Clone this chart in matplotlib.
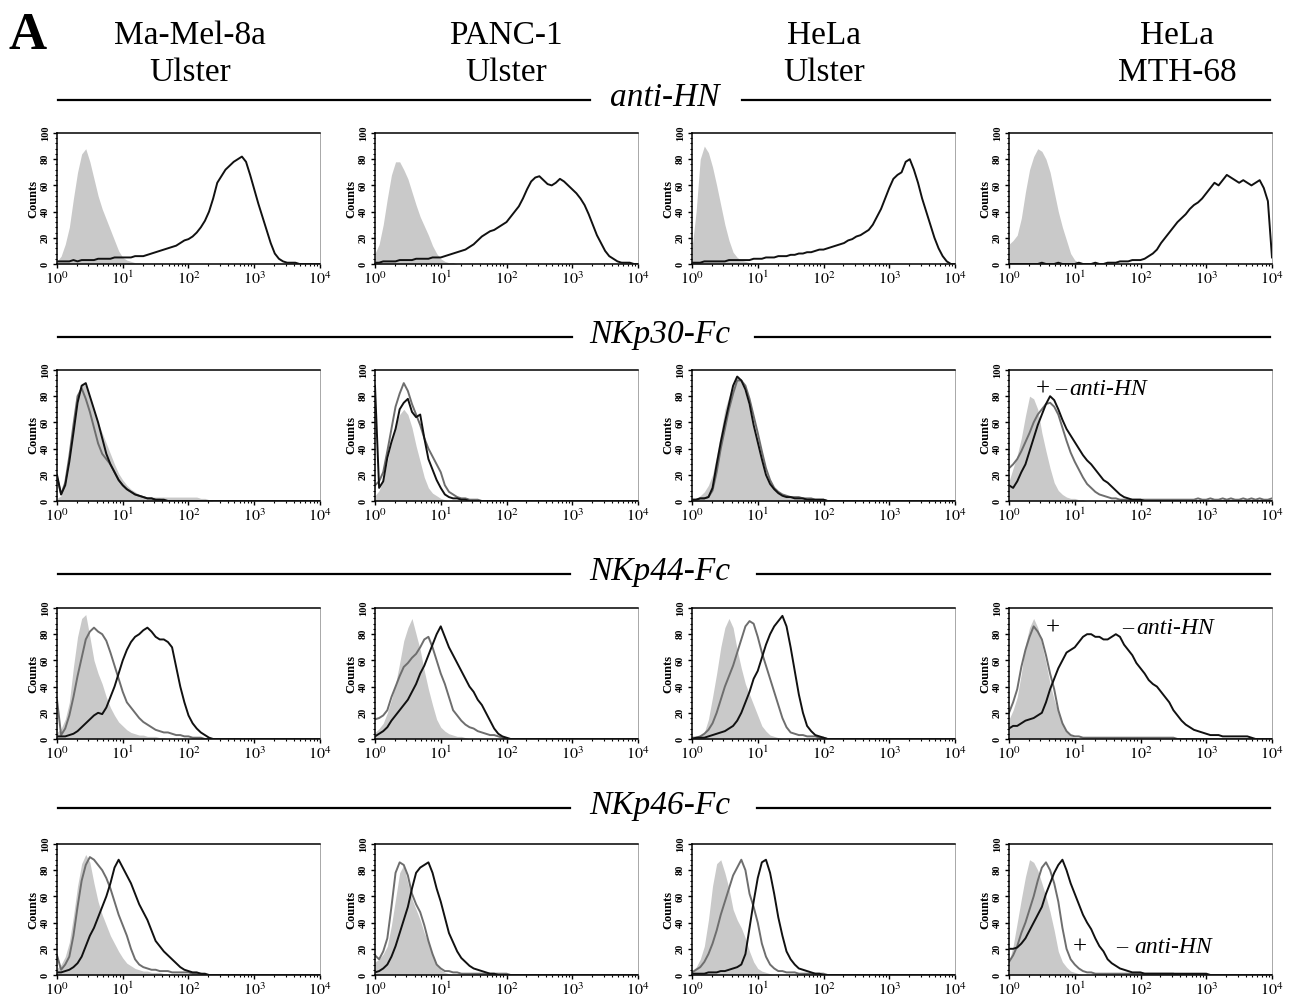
import numpy as np
import matplotlib.pyplot as plt
from matplotlib.lines import Line2D
from matplotlib.ticker import MultipleLocator, LogLocator, NullFormatter

plt.rcParams['font.family'] = ['Liberation Serif', 'DejaVu Serif']
plt.rcParams['mathtext.fontset'] = 'stix'

cell_lines = ['Ma-Mel-8a\nUlster', 'PANC-1\nUlster', 'HeLa\nUlster', 'HeLa\nMTH-68']
stains = ['anti-HN', 'NKp30-Fc', 'NKp44-Fc', 'NKp46-Fc']
decade_labels = ['$10^{0}$', '$10^{1}$', '$10^{2}$', '$10^{3}$', '$10^{4}$']

# histogram counts, 16 channels per decade starting at 10^0 (missing tail = 0)
# ctrl = isotype (filled), pos = + anti-HN, neg = - anti-HN / stain
mel_hn_ctrl = [2, 6, 15, 28, 50, 70, 84, 88, 78, 65, 52, 42, 34, 26, 18, 10, 5, 3, 2, 1, 1]
mel_hn = [2, 2, 2, 2, 3, 2, 3, 3, 3, 3, 4, 4, 4, 4, 5, 5, 5, 5, 5, 6,
          6, 6, 7, 8, 9, 10, 11, 12, 13, 14, 16, 18, 19, 21, 24, 28, 33, 40, 50, 62,
          67, 72, 75, 78, 80, 82, 78, 68, 57, 46, 36, 26, 16, 8, 4, 2, 1, 1, 1]
panc_hn_ctrl = [8, 15, 30, 50, 68, 78, 78, 72, 65, 55, 45, 36, 29, 22, 14, 8, 4, 2, 1, 1]
panc_hn = [1, 1, 2, 2, 2, 2, 3, 3, 3, 3, 4, 4, 4, 4, 5, 5, 5, 6, 7, 8,
           9, 10, 11, 13, 15, 18, 21, 23, 25, 26, 28, 30, 32, 36, 40, 44, 50, 57, 63, 66,
           67, 64, 61, 60, 62, 65, 63, 60, 57, 54, 50, 45, 38, 30, 22, 16, 10, 6, 4, 2, 1, 1, 1]
hela_hn_ctrl = [12, 40, 80, 90, 85, 74, 60, 45, 30, 18, 9, 5, 3, 2, 1, 1]
hela_hn = [1, 1, 1, 2, 2, 2, 2, 2, 2, 3, 3, 3, 3, 3, 3, 4, 4, 4, 5, 5,
           5, 6, 6, 6, 7, 7, 8, 8, 9, 9, 10, 11, 11, 12, 13, 14, 15, 16, 18, 19,
           21, 22, 24, 26, 30, 36, 42, 50, 58, 65, 68, 70, 78, 80, 72, 62, 50, 40, 30, 20, 12, 6, 2]
mth_hn_ctrl = [15, 18, 22, 35, 55, 72, 82, 88, 86, 80, 70, 55, 40, 28, 18, 8, 3, 1]
mth_hn = [0, 0, 0, 0, 0, 0, 0, 0, 1, 0, 0, 0, 1, 0, 0, 0, 0, 1, 0, 0,
          0, 1, 0, 0, 1, 1, 1, 2, 2, 2, 3, 3, 3, 4, 6, 8, 11, 16, 20, 24,
          28, 32, 35, 38, 42, 45, 47, 50, 54, 58, 62, 60, 64, 68, 66, 64, 62, 64, 62, 60,
          62, 64, 58, 48, 5]

mel_30_ctrl = [2, 4, 14, 34, 58, 80, 90, 88, 80, 70, 60, 52, 44, 36, 28, 21, 16, 12, 9, 7,
               5, 4, 3, 3, 3, 3, 3, 3, 3, 3, 3, 3, 3, 3, 3, 2, 2, 1]
mel_30_pos = [18, 5, 14, 34, 58, 80, 86, 78, 68, 56, 44, 36, 32, 28, 22, 16, 12, 9, 7, 5,
              4, 3, 2, 2, 1, 1]
mel_30_neg = [20, 5, 12, 30, 52, 75, 88, 90, 80, 70, 60, 48, 36, 28, 22, 16, 12, 9, 7, 5,
              4, 3, 2, 2, 1, 1, 1]
panc_30_ctrl = [4, 8, 16, 30, 45, 58, 66, 70, 66, 56, 42, 30, 18, 10, 6, 4, 2, 1]
panc_30_pos = [12, 15, 22, 38, 55, 72, 82, 90, 84, 74, 66, 58, 48, 40, 34, 28, 22, 12, 7, 5,
               3, 2, 2, 1, 1, 1]
panc_30_neg = [88, 10, 15, 33, 45, 55, 70, 75, 78, 68, 64, 66, 48, 32, 24, 16, 10, 5, 3, 2,
               2, 1, 1]
hela_30_ctrl = [1, 2, 4, 7, 12, 20, 35, 52, 70, 80, 90, 95, 90, 82, 70, 57, 45, 32, 20, 13,
                9, 6, 5, 4, 3, 3, 3, 2, 2, 2, 2, 2, 1]
hela_30_pos = [1, 1, 2, 2, 3, 8, 22, 40, 55, 70, 82, 92, 92, 88, 78, 65, 52, 38, 25, 16,
               10, 7, 5, 4, 3, 3, 3, 2, 2, 2, 1, 1, 1]
hela_30_neg = [1, 1, 2, 2, 3, 10, 28, 45, 60, 74, 88, 95, 92, 85, 74, 58, 45, 32, 20, 13,
               9, 6, 4, 3, 3, 2, 2, 2, 1, 1, 1, 1, 1]
mth_30_ctrl = [15, 25, 35, 48, 65, 80, 78, 70, 52, 38, 25, 14, 8, 5, 3, 2, 2, 1, 1]
mth_30_pos = [25, 28, 32, 38, 45, 52, 60, 66, 70, 74, 75, 72, 66, 56, 46, 37, 30, 24, 18, 13,
              10, 7, 5, 4, 3, 2, 2, 1, 1, 1, 1, 1, 1, 1, 1, 1, 1, 1, 1, 1,
              1, 1, 1, 1, 1, 1, 2, 1, 1, 2, 1, 1, 2, 1, 2, 1, 1, 2, 1, 2,
              1, 2, 1, 1, 2]
mth_30_neg = [12, 10, 15, 22, 28, 38, 48, 58, 66, 74, 80, 77, 70, 62, 55, 50, 45, 40, 35, 31,
              28, 24, 20, 16, 14, 11, 8, 5, 3, 2, 1, 1, 1]

mel_44_ctrl = [5, 8, 15, 28, 55, 78, 92, 95, 78, 60, 50, 42, 32, 24, 18, 13, 10, 7, 5, 4,
               3, 3, 2, 2, 2, 1, 1]
mel_44_pos = [30, 3, 8, 18, 32, 48, 62, 76, 82, 85, 82, 80, 75, 66, 56, 46, 36, 28, 24, 20,
              16, 13, 11, 9, 7, 6, 5, 5, 4, 3, 3, 2, 2, 1, 1, 1]
mel_44_neg = [2, 2, 2, 3, 4, 6, 9, 12, 15, 18, 20, 19, 24, 32, 40, 50, 60, 68, 74, 78,
              80, 83, 85, 82, 78, 76, 76, 74, 70, 55, 40, 28, 18, 12, 8, 5, 3, 1]
panc_44_ctrl = [5, 8, 12, 20, 30, 42, 58, 75, 85, 92, 80, 68, 52, 38, 26, 15, 9, 6, 4, 3, 2, 2, 1]
panc_44_pos = [15, 16, 18, 22, 32, 40, 48, 55, 58, 62, 65, 70, 76, 78, 70, 60, 50, 42, 32, 22,
               18, 14, 11, 9, 8, 6, 5, 4, 3, 3, 2, 1]
panc_44_neg = [2, 4, 6, 9, 14, 18, 22, 26, 30, 36, 42, 50, 56, 64, 72, 80, 86, 78, 70, 64,
               58, 52, 46, 40, 36, 30, 26, 20, 14, 8, 4, 2, 1]
hela_44_ctrl = [1, 1, 2, 5, 15, 32, 50, 70, 85, 92, 85, 68, 54, 42, 34, 26, 18, 10, 6, 3, 2, 1]
hela_44_pos = [1, 1, 2, 4, 7, 12, 20, 30, 40, 48, 56, 66, 76, 86, 90, 88, 78, 66, 56, 46,
               36, 26, 16, 9, 5, 4, 3, 3, 2, 2, 2, 1, 1]
hela_44_neg = [0, 1, 1, 1, 2, 3, 4, 5, 6, 8, 10, 14, 20, 28, 36, 46, 52, 62, 72, 80,
               86, 90, 94, 86, 70, 52, 34, 20, 10, 6, 3, 2, 1]
mth_44_ctrl = [15, 22, 32, 50, 72, 85, 92, 85, 72, 58, 42, 30, 20, 12, 6, 3, 1]
mth_44_pos = [20, 28, 38, 55, 68, 78, 86, 82, 76, 64, 50, 38, 22, 12, 6, 3, 2, 2, 1, 1,
              1, 1, 1, 1, 1, 1, 1, 1, 1, 1, 1, 1, 1, 1, 1, 1, 1, 1, 1, 1, 1]
mth_44_neg = [8, 10, 10, 12, 14, 15, 16, 18, 20, 28, 38, 46, 54, 60, 66, 68, 70, 74, 78, 80,
              80, 78, 78, 76, 76, 78, 80, 78, 72, 68, 64, 58, 54, 50, 45, 42, 40, 36, 32, 28,
              22, 18, 14, 11, 9, 7, 6, 5, 4, 3, 3, 3, 2, 2, 2, 2, 2, 2, 2, 1]

mel_46_ctrl = [5, 8, 14, 25, 45, 68, 85, 92, 86, 70, 56, 46, 38, 30, 24, 18, 13, 9, 7, 5,
               4, 3, 3, 2, 2, 2, 1, 1, 1, 1, 1, 1, 1]
mel_46_pos = [15, 4, 8, 14, 30, 52, 72, 84, 90, 88, 84, 80, 74, 66, 56, 46, 38, 30, 20, 12,
              8, 6, 5, 4, 4, 3, 3, 3, 2, 2, 2, 2, 2, 1, 1, 1]
mel_46_neg = [2, 2, 3, 4, 6, 9, 14, 22, 30, 36, 44, 52, 60, 70, 82, 88, 82, 76, 70, 62,
              54, 48, 42, 34, 26, 22, 18, 15, 12, 9, 6, 4, 3, 2, 2, 1, 1]
panc_46_ctrl = [10, 12, 16, 22, 38, 58, 78, 84, 70, 58, 50, 42, 32, 25, 16, 8, 4, 2, 1]
panc_46_pos = [15, 12, 18, 28, 52, 78, 86, 84, 76, 62, 54, 48, 38, 26, 16, 8, 5, 3, 3, 2,
               2, 1, 1, 1, 1, 1, 1, 1, 1, 1, 1, 1, 1]
panc_46_neg = [2, 3, 5, 8, 14, 22, 32, 42, 52, 66, 78, 82, 84, 86, 78, 66, 56, 44, 32, 25,
               18, 13, 10, 7, 5, 4, 3, 2, 1, 1]
hela_46_ctrl = [3, 6, 12, 22, 42, 68, 85, 88, 78, 66, 50, 42, 36, 28, 18, 10, 5, 3, 2, 1]
hela_46_pos = [2, 4, 6, 10, 16, 24, 34, 46, 56, 66, 76, 82, 88, 80, 62, 52, 40, 24, 14, 8,
               5, 3, 3, 2, 2, 2, 1, 1, 1, 1, 1, 1, 1]
hela_46_neg = [1, 1, 1, 1, 2, 2, 2, 3, 3, 4, 5, 6, 8, 16, 36, 56, 74, 86, 88, 78,
               62, 44, 30, 18, 12, 8, 5, 4, 3, 2, 1, 1]
mth_46_ctrl = [10, 22, 40, 58, 75, 88, 86, 80, 70, 60, 48, 34, 18, 10, 6, 3, 2, 1]
mth_46_pos = [10, 15, 22, 32, 40, 50, 60, 72, 82, 86, 80, 70, 56, 36, 20, 12, 8, 5, 3, 2,
              2, 1, 1, 1, 1, 1, 1, 1, 1, 1, 1, 1, 1, 1, 1, 1, 1, 1, 1, 1, 1]
mth_46_neg = [20, 20, 21, 24, 28, 34, 40, 46, 52, 62, 70, 78, 84, 88, 80, 70, 62, 54, 46, 40,
              35, 28, 22, 18, 12, 9, 7, 5, 4, 3, 2, 2, 2, 1, 1, 1, 1, 1, 1, 1,
              1, 1, 1, 1, 1, 1, 1, 1, 1]

panels = [
    [(mel_hn_ctrl, None, mel_hn), (panc_hn_ctrl, None, panc_hn),
     (hela_hn_ctrl, None, hela_hn), (mth_hn_ctrl, None, mth_hn)],
    [(mel_30_ctrl, mel_30_pos, mel_30_neg), (panc_30_ctrl, panc_30_pos, panc_30_neg),
     (hela_30_ctrl, hela_30_pos, hela_30_neg), (mth_30_ctrl, mth_30_pos, mth_30_neg)],
    [(mel_44_ctrl, mel_44_pos, mel_44_neg), (panc_44_ctrl, panc_44_pos, panc_44_neg),
     (hela_44_ctrl, hela_44_pos, hela_44_neg), (mth_44_ctrl, mth_44_pos, mth_44_neg)],
    [(mel_46_ctrl, mel_46_pos, mel_46_neg), (panc_46_ctrl, panc_46_pos, panc_46_neg),
     (hela_46_ctrl, hela_46_pos, hela_46_neg), (mth_46_ctrl, mth_46_pos, mth_46_neg)],
]

n_ch = 65
chan = 10 ** (np.arange(n_ch) / 16)


def full(vals):
    y = np.zeros(n_ch)
    y[:len(vals)] = vals
    return y


W, H = 1293, 1005
fig = plt.figure(figsize=(W / 100, H / 100), dpi=100)

col_left = [57, 375, 692, 1009]
row_bottom = [264, 501, 739, 975]
pw, ph = 263, 131

fill_c = '#c9c9c9'
pos_c = '#6e6e6e'
neg_c = '#111111'

# "+ / - anti-HN" key in the MTH-68 column: (+ pos, y, dash pos, text pos), log10 units
key_spots = {1: (0.52, 85, 0.78, 0.92), 2: (0.66, 84, 1.80, 1.94), 3: (1.08, 21, 1.72, 1.90)}

for r in range(4):
    for c in range(4):
        ax = fig.add_axes([col_left[c] / W, 1 - row_bottom[r] / H, pw / W, ph / H])
        ctrl, pos, neg = panels[r][c]
        ax.fill_between(chan, 0, full(ctrl), color=fill_c, lw=0, zorder=1)
        if pos is not None:
            ax.plot(chan, full(pos), color=pos_c, lw=1.4, zorder=2)
        ax.plot(chan, full(neg), color=neg_c, lw=1.4, zorder=3)

        ax.set_xscale('log')
        ax.set_xlim(1, 1e4)
        ax.set_ylim(0, 100)
        ax.set_xticks([1, 10, 100, 1000, 10000])
        ax.set_xticklabels(decade_labels, fontsize=11.5)
        ax.xaxis.set_minor_locator(LogLocator(base=10, subs=np.arange(2, 10)))
        ax.xaxis.set_minor_formatter(NullFormatter())
        ax.set_yticks(range(0, 101, 20))
        ax.set_yticklabels([str(v) for v in range(0, 101, 20)],
                           fontsize=7.5, fontweight='bold', rotation=90, va='center')
        ax.yaxis.set_minor_locator(MultipleLocator(4))
        ax.tick_params(which='major', direction='out', length=3, width=1, pad=2)
        ax.tick_params(which='minor', direction='out', length=1.5, width=0.8)
        ax.set_ylabel('Counts', fontsize=9, fontweight='bold', labelpad=1)
        for side in ('left', 'bottom', 'top'):
            ax.spines[side].set_linewidth(1.1)
            ax.spines[side].set_color('black')
        ax.spines['right'].set_linewidth(0.6)
        ax.spines['right'].set_color('#9a9a9a')

        if r > 0 and c == 3:
            xp, yp, xd, xt = key_spots[r]
            ax.text(10 ** xp, yp, '+', fontsize=18, ha='center', va='center')
            ax.text(10 ** xd, yp, '\u2013', fontsize=16, ha='center', va='center')
            ax.text(10 ** xt, yp, 'anti-HN', fontsize=17, style='italic',
                    ha='left', va='center')

# column titles
title_x = [190, 506, 824, 1177]
for name, tx in zip(cell_lines, title_x):
    top, bottom = name.split('\n')
    fig.text(tx / W, 1 - 36 / H, top, fontsize=24, ha='center', va='center')
    fig.text(tx / W, 1 - 73 / H, bottom, fontsize=24, ha='center', va='center')

fig.text(28 / W, 1 - 36 / H, 'A', fontsize=38, fontweight='bold', ha='center', va='center')

# section headers with rules on both sides
head_y = [100, 337, 574, 808]
head_x = [665, 660, 660, 660]
gaps = [(590, 742), (572, 755), (570, 757), (570, 757)]
for label, hy, hx, (g0, g1) in zip(stains, head_y, head_x, gaps):
    fig.text(hx / W, 1 - (hy - 2) / H, label, fontsize=24, style='italic',
             ha='center', va='center')
    for x0, x1 in ((58, g0), (g1, 1270)):
        fig.add_artist(Line2D([x0 / W, x1 / W], [1 - hy / H, 1 - hy / H],
                              transform=fig.transFigure, color='black', lw=1.6))

fig.savefig('out.png', dpi=100)
